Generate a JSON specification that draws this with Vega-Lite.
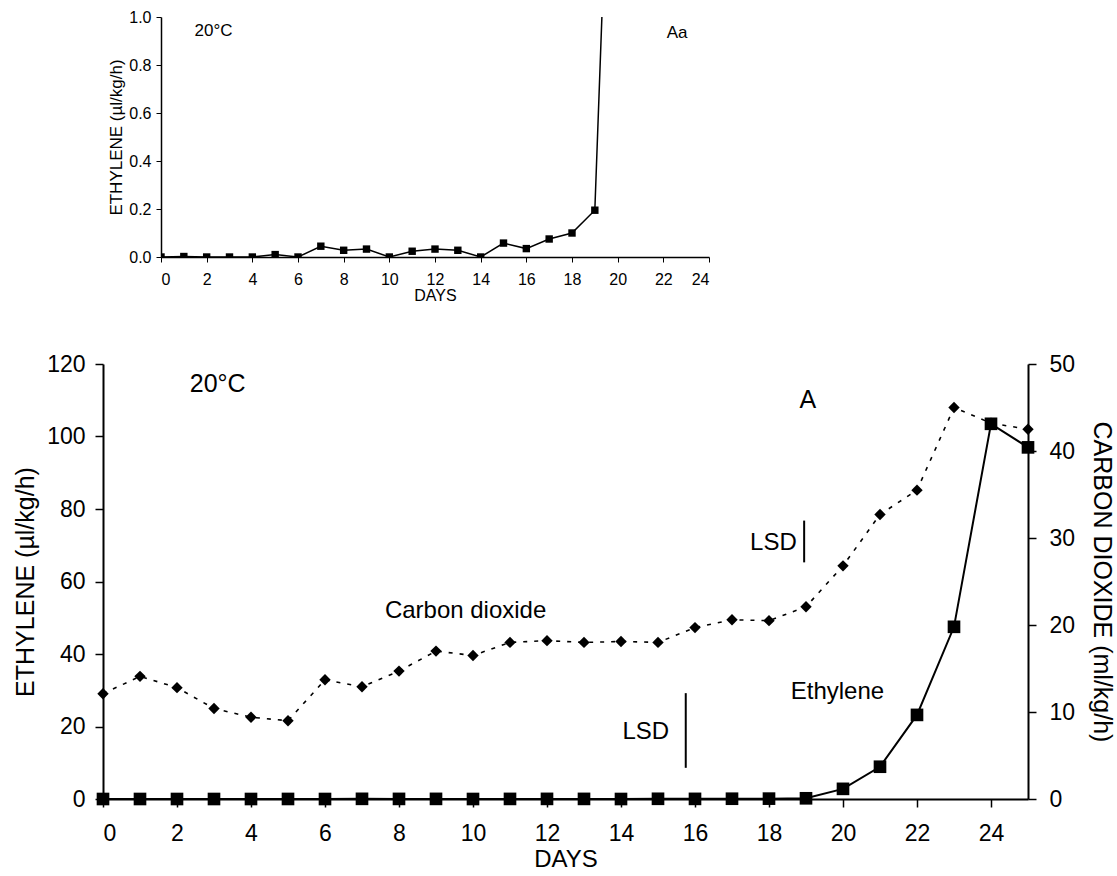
{
  "$schema": "https://vega.github.io/schema/vega-lite/v6.json",
  "background": "white",
  "padding": {"left": 13, "top": 9, "right": 3, "bottom": 2},
  "config": {
    "font": "Liberation Sans",
    "view": {"stroke": null},
    "axis": {"grid": false, "domainColor": "black", "tickColor": "black", "labelColor": "black", "titleColor": "black", "titleFontWeight": "normal"}
  },
  "datasets": {
    "ethylene": [
      {"day": 0, "ethylene": 0.0}, {"day": 1, "ethylene": 0.002}, {"day": 2, "ethylene": 0.0}, {"day": 3, "ethylene": 0.0},
      {"day": 4, "ethylene": 0.0}, {"day": 5, "ethylene": 0.01}, {"day": 6, "ethylene": 0.0}, {"day": 7, "ethylene": 0.045},
      {"day": 8, "ethylene": 0.028}, {"day": 9, "ethylene": 0.033}, {"day": 10, "ethylene": 0.0}, {"day": 11, "ethylene": 0.024},
      {"day": 12, "ethylene": 0.033}, {"day": 13, "ethylene": 0.028}, {"day": 14, "ethylene": 0.0}, {"day": 15, "ethylene": 0.058},
      {"day": 16, "ethylene": 0.035}, {"day": 17, "ethylene": 0.075}, {"day": 18, "ethylene": 0.1}, {"day": 19, "ethylene": 0.195},
      {"day": 20, "ethylene": 2.8}, {"day": 21, "ethylene": 8.9}, {"day": 22, "ethylene": 23.2}, {"day": 23, "ethylene": 47.5},
      {"day": 24, "ethylene": 103.5}, {"day": 25, "ethylene": 97.0}
    ],
    "co2": [
      {"day": 0, "co2": 12.1}, {"day": 1, "co2": 14.1}, {"day": 2, "co2": 12.8}, {"day": 3, "co2": 10.4},
      {"day": 4, "co2": 9.4}, {"day": 5, "co2": 9.0}, {"day": 6, "co2": 13.7}, {"day": 7, "co2": 12.9},
      {"day": 8, "co2": 14.7}, {"day": 9, "co2": 17.0}, {"day": 10, "co2": 16.5}, {"day": 11, "co2": 18.0},
      {"day": 12, "co2": 18.2}, {"day": 13, "co2": 18.0}, {"day": 14, "co2": 18.1}, {"day": 15, "co2": 18.0},
      {"day": 16, "co2": 19.7}, {"day": 17, "co2": 20.6}, {"day": 18, "co2": 20.5}, {"day": 19, "co2": 22.1},
      {"day": 20, "co2": 26.8}, {"day": 21, "co2": 32.7}, {"day": 22, "co2": 35.5}, {"day": 23, "co2": 45.0},
      {"day": 24, "co2": 43.2}, {"day": 25, "co2": 42.5}
    ],
    "one": [{"n": 1}]
  },
  "vconcat": [
    {
      "spacing": 0,
      "hconcat": [
        {
          "width": 1, "height": 240,
          "data": {"name": "one"},
          "mark": {"type": "point", "opacity": 0},
          "encoding": {}
        },
        {
          "width": 548, "height": 240,
          "layer": [
            {
              "data": {"name": "ethylene"},
              "transform": [{"filter": "datum.day <= 20"}],
              "mark": {"type": "line", "color": "black", "strokeWidth": 1.5, "clip": true},
              "encoding": {
                "x": {"field": "day", "type": "quantitative", "scale": {"domain": [0, 24], "nice": false},
                  "axis": {"values": [0,1,2,3,4,5,6,7,8,9,10,11,12,13,14,15,16,17,18,19,20,21,22,23,24],
                    "labelExpr": "datum.value % 2 === 0 ? datum.label : ''", "title": "DAYS",
                    "labelFontSize": 16, "titleFontSize": 16, "tickSize": 5, "labelPadding": 9, "titlePadding": 0, "domainWidth": 1.5}},
                "y": {"field": "ethylene", "type": "quantitative", "scale": {"domain": [0, 1], "nice": false},
                  "axis": {"values": [0, 0.2, 0.4, 0.6, 0.8, 1.0], "format": ".1f", "title": "ETHYLENE (µl/kg/h)",
                    "labelFontSize": 16, "titleFontSize": 17, "tickSize": 5, "labelPadding": 5, "titlePadding": 3, "domainWidth": 1.5}}
              }
            },
            {
              "data": {"name": "ethylene"},
              "transform": [{"filter": "datum.day <= 20"}],
              "mark": {"type": "point", "shape": "square", "filled": true, "color": "black", "opacity": 1, "size": 55, "clip": true},
              "encoding": {
                "x": {"field": "day", "type": "quantitative"},
                "y": {"field": "ethylene", "type": "quantitative"}
              }
            },
            {
              "data": {"name": "one"},
              "mark": {"type": "text", "fontSize": 17, "color": "black"},
              "encoding": {"x": {"datum": 2.3}, "y": {"datum": 0.94}, "text": {"value": "20°C"}}
            },
            {
              "data": {"name": "one"},
              "mark": {"type": "text", "fontSize": 17, "color": "black"},
              "encoding": {"x": {"datum": 22.6}, "y": {"datum": 0.935}, "text": {"value": "Aa"}}
            }
          ]
        }
      ]
    },
    {
      "width": 925, "height": 435,
      "layer": [
        {
          "layer": [
            {
              "data": {"name": "co2"},
              "mark": {"type": "line", "color": "black", "strokeWidth": 1.6, "strokeDash": [4, 7]},
              "encoding": {
                "x": {"field": "day", "type": "quantitative", "scale": {"domain": [0, 25], "nice": false},
                  "axis": {"values": [0,1,2,3,4,5,6,7,8,9,10,11,12,13,14,15,16,17,18,19,20,21,22,23,24,25],
                    "labelExpr": "datum.value % 2 === 0 ? datum.label : ''", "title": "DAYS",
                    "labelFontSize": 23, "titleFontSize": 24, "tickSize": 8, "tickWidth": 1.5, "labelPadding": 15, "titlePadding": 2, "domainWidth": 2}},
                "y": {"field": "co2", "type": "quantitative", "scale": {"domain": [0, 50], "nice": false},
                  "axis": {"orient": "right", "values": [0, 10, 20, 30, 40, 50], "title": "CARBON DIOXIDE (ml/kg/h)",
                    "labelFontSize": 23, "titleFontSize": 25, "tickSize": 8, "tickWidth": 1.5, "labelPadding": 13, "titlePadding": 14, "domainWidth": 2}}
              }
            },
            {
              "data": {"name": "co2"},
              "mark": {"type": "point", "shape": "diamond", "filled": true, "color": "black", "opacity": 1, "size": 130},
              "encoding": {
                "x": {"field": "day", "type": "quantitative"},
                "y": {"field": "co2", "type": "quantitative"}
              }
            },
            {
              "data": {"name": "one"},
              "mark": {"type": "rule", "color": "black", "strokeWidth": 2},
              "encoding": {"x": {"datum": 18.95}, "y": {"datum": 27.2}, "y2": {"datum": 32.0}}
            },
            {
              "data": {"name": "one"},
              "mark": {"type": "text", "fontSize": 24, "color": "black", "align": "right"},
              "encoding": {"x": {"datum": 18.75}, "y": {"datum": 29.4}, "text": {"value": "LSD"}}
            }
          ]
        },
        {
          "layer": [
            {
              "data": {"name": "ethylene"},
              "mark": {"type": "line", "color": "black", "strokeWidth": 2},
              "encoding": {
                "x": {"field": "day", "type": "quantitative", "scale": {"domain": [0, 25], "nice": false},
                  "axis": {"values": [0,1,2,3,4,5,6,7,8,9,10,11,12,13,14,15,16,17,18,19,20,21,22,23,24,25],
                    "labelExpr": "datum.value % 2 === 0 ? datum.label : ''", "title": "DAYS",
                    "labelFontSize": 23, "titleFontSize": 24, "tickSize": 8, "tickWidth": 1.5, "labelPadding": 15, "titlePadding": 2, "domainWidth": 2}},
                "y": {"field": "ethylene", "type": "quantitative", "scale": {"domain": [0, 120], "nice": false},
                  "axis": {"orient": "left", "values": [0, 20, 40, 60, 80, 100, 120], "title": "ETHYLENE (µl/kg/h)",
                    "labelFontSize": 23, "titleFontSize": 25, "tickSize": 8, "tickWidth": 1.5, "labelPadding": 10, "titlePadding": 8, "domainWidth": 2}}
              }
            },
            {
              "data": {"name": "ethylene"},
              "mark": {"type": "point", "shape": "square", "filled": true, "color": "black", "opacity": 1, "size": 160},
              "encoding": {
                "x": {"field": "day", "type": "quantitative"},
                "y": {"field": "ethylene", "type": "quantitative"}
              }
            },
            {
              "data": {"name": "one"},
              "mark": {"type": "rule", "color": "black", "strokeWidth": 2},
              "encoding": {"x": {"datum": 15.75}, "y": {"datum": 8.6}, "y2": {"datum": 29.2}}
            },
            {
              "data": {"name": "one"},
              "mark": {"type": "text", "fontSize": 24, "color": "black", "align": "right"},
              "encoding": {"x": {"datum": 15.3}, "y": {"datum": 18.5}, "text": {"value": "LSD"}}
            },
            {
              "data": {"name": "one"},
              "mark": {"type": "text", "fontSize": 24, "color": "black"},
              "encoding": {"x": {"datum": 19.85}, "y": {"datum": 29.6}, "text": {"value": "Ethylene"}}
            },
            {
              "data": {"name": "one"},
              "mark": {"type": "text", "fontSize": 24, "color": "black"},
              "encoding": {"x": {"datum": 9.8}, "y": {"datum": 52.0}, "text": {"value": "Carbon dioxide"}}
            },
            {
              "data": {"name": "one"},
              "mark": {"type": "text", "fontSize": 25, "color": "black"},
              "encoding": {"x": {"datum": 3.1}, "y": {"datum": 114.5}, "text": {"value": "20°C"}}
            },
            {
              "data": {"name": "one"},
              "mark": {"type": "text", "fontSize": 25, "color": "black"},
              "encoding": {"x": {"datum": 19.05}, "y": {"datum": 110}, "text": {"value": "A"}}
            }
          ]
        }
      ],
      "resolve": {"scale": {"y": "independent"}}
    }
  ],
  "spacing": 50
}
